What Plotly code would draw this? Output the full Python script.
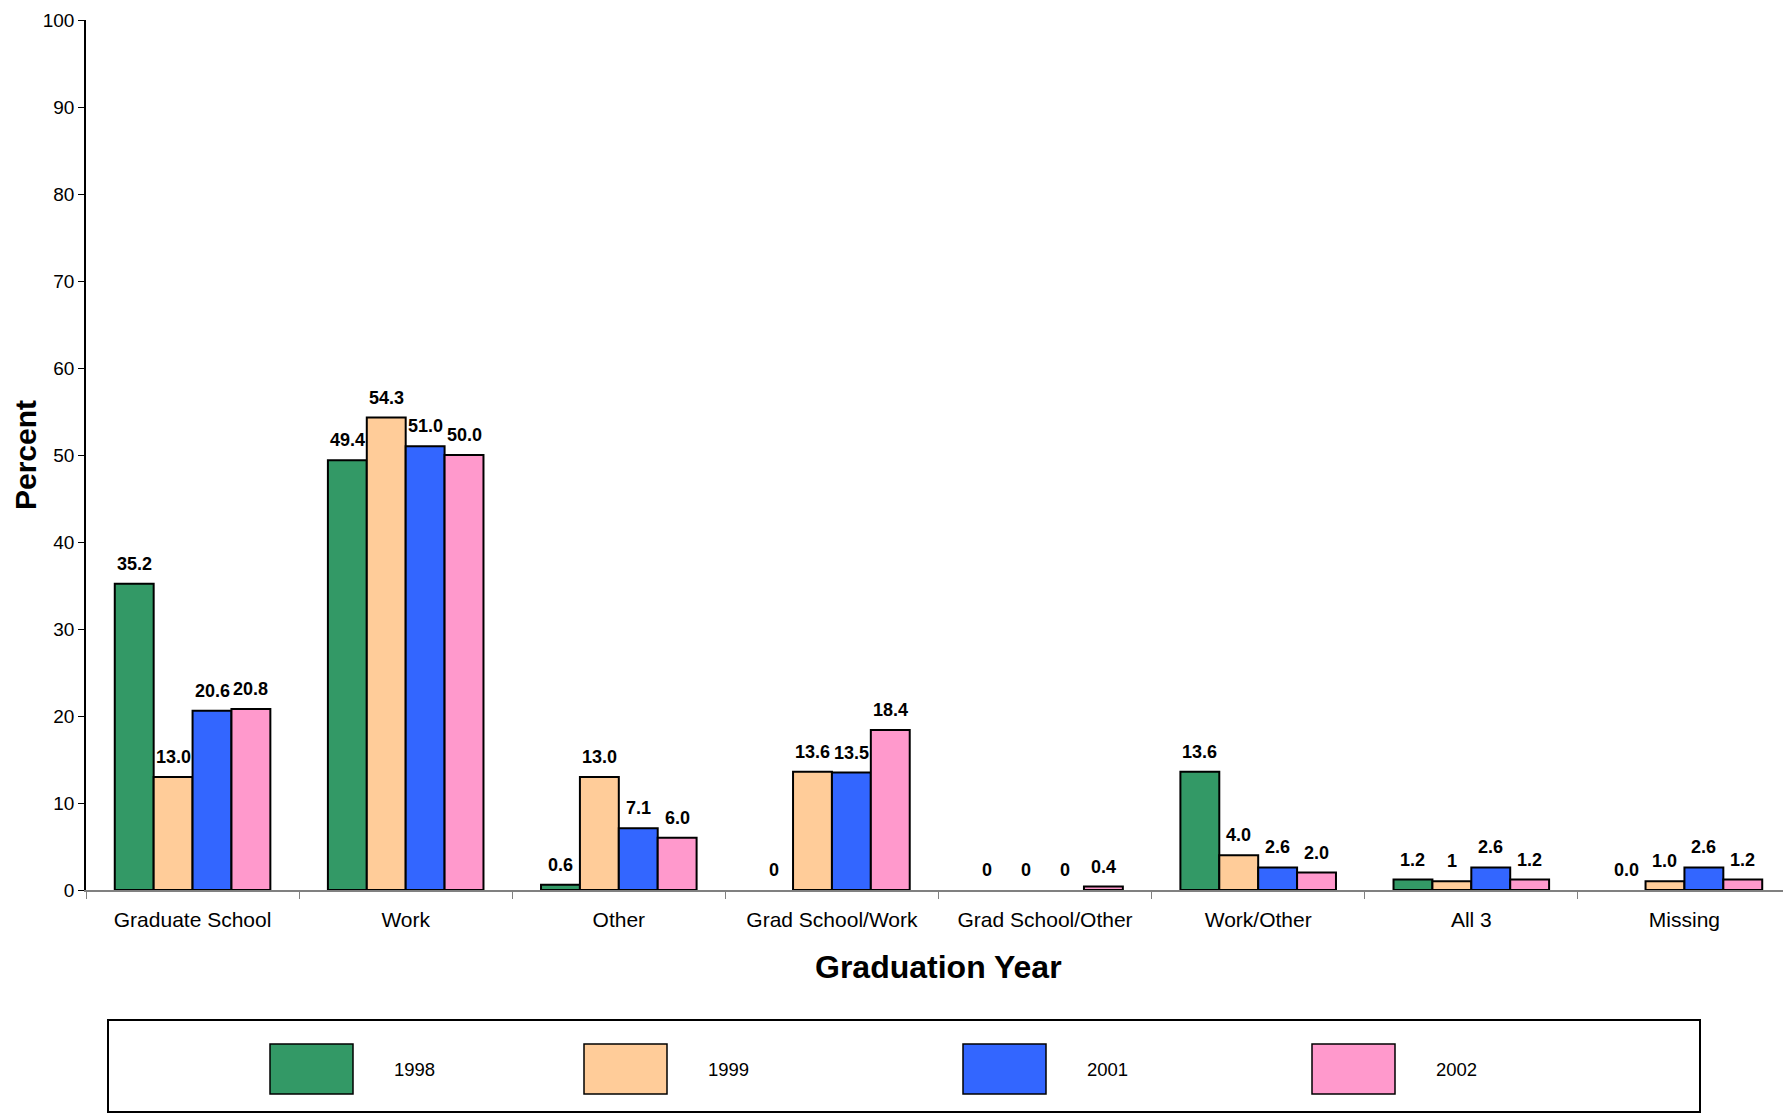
import plotly.graph_objects as go

# data
categories = ["Graduate School", "Work", "Other", "Grad School/Work",
              "Grad School/Other", "Work/Other", "All 3", "Missing"]
years = ["1998", "1999", "2001", "2002"]

v1998 = [35.2, 49.4, 0.6, 0, 0, 13.6, 1.2, 0.0]
v1999 = [13.0, 54.3, 13.0, 13.6, 0, 4.0, 1.0, 1.0]
v2001 = [20.6, 51.0, 7.1, 13.5, 0, 2.6, 2.6, 2.6]
v2002 = [20.8, 50.0, 6.0, 18.4, 0.4, 2.0, 1.2, 1.2]

t1998 = ["35.2", "49.4", "0.6", "0", "0", "13.6", "1.2", "0.0"]
t1999 = ["13.0", "54.3", "13.0", "13.6", "0", "4.0", "1", "1.0"]
t2001 = ["20.6", "51.0", "7.1", "13.5", "0", "2.6", "2.6", "2.6"]
t2002 = ["20.8", "50.0", "6.0", "18.4", "0.4", "2.0", "1.2", "1.2"]

yticks = list(range(0, 101, 10))

values = [v1998, v1999, v2001, v2002]
labels = [t1998, t1999, t2001, t2002]
colors = ["#339966", "#FFCC99", "#3366FF", "#FF99CC"]

FONT = "Arial, Liberation Sans, sans-serif"
# page body has an 8px margin, so the figure is 8px smaller than the window
OFF = 8
W, H = 1791 - OFF, 1115 - OFF
ML, MR, MT, MB = 86 - OFF, 0, 12, 225
PW, PH = W - ML - MR, H - MT - MB
BARGAP = 0.27
bar_px = PW / len(categories) * (1 - BARGAP) / len(years)

fig = go.Figure()
annots = []
for i, (yr, v, t, c) in enumerate(zip(years, values, labels, colors)):
    fig.add_trace(go.Bar(
        x=categories, y=v, name=yr,
        marker=dict(color=c, line=dict(color="black",
                                       width=[0 if val == 0 else 2 for val in v])),
    ))
    for cat, val, lab in zip(categories, v, t):
        annots.append(dict(x=cat, y=val, xref="x", yref="y", text=f"<b>{lab}</b>",
                           showarrow=False, xanchor="center", yanchor="bottom",
                           xshift=(i - 1.5) * bar_px, yshift=8,
                           font=dict(family=FONT, size=18, color="black")))

# hand-made legend (big swatches like the original); positions in window pixels
def px_x(p):
    return (p - OFF - ML) / PW

def px_y(p):
    return (H - MB - (p - OFF)) / PH

shapes = [dict(type="rect", xref="paper", yref="paper",
               x0=px_x(108), x1=px_x(1700), y0=px_y(1112), y1=px_y(1020),
               line=dict(color="black", width=2), fillcolor="white")]
sw_left = [270, 584, 963, 1312]
for yr, c, sx in zip(years, colors, sw_left):
    shapes.append(dict(type="rect", xref="paper", yref="paper",
                       x0=px_x(sx), x1=px_x(sx + 83), y0=px_y(1094), y1=px_y(1044),
                       line=dict(color="black", width=1.5), fillcolor=c))
    annots.append(dict(xref="paper", yref="paper", x=px_x(sx + 122), y=px_y(1069),
                       text=yr, showarrow=False, xanchor="left", yanchor="middle",
                       font=dict(family=FONT, size=18.5, color="black")))

annots.append(dict(xref="paper", yref="paper", x=0.5, y=0, yshift=-77,
                   text="<b>Graduation Year</b>", showarrow=False,
                   xanchor="center", yanchor="middle",
                   font=dict(family=FONT, size=32, color="black")))
annots.append(dict(xref="paper", yref="paper", x=0, y=0.5, xshift=-61,
                   text="<b>Percent</b>", showarrow=False, textangle=-90,
                   xanchor="center", yanchor="middle",
                   font=dict(family=FONT, size=30, color="black")))

fig.update_layout(
    width=W, height=H,
    margin=dict(l=ML, r=MR, t=MT, b=MB, autoexpand=False),
    paper_bgcolor="white", plot_bgcolor="white",
    barmode="group", bargap=BARGAP, bargroupgap=0,
    showlegend=False,
    shapes=shapes, annotations=annots,
    font=dict(family=FONT, color="black"),
    xaxis=dict(
        showline=True, linecolor="#808080", linewidth=2,
        ticks="outside", tickson="boundaries", ticklen=7, tickcolor="#808080",
        tickfont=dict(family=FONT, size=21, color="black"),
        ticklabelstandoff=10, ticklabeloverflow="allow", automargin=False,
        showgrid=False, zeroline=False,
    ),
    yaxis=dict(
        range=[0, 100], tickvals=yticks,
        showline=True, linecolor="black", linewidth=1.5,
        ticks="outside", ticklen=6, tickcolor="black",
        tickfont=dict(family=FONT, size=19, color="black"),
        ticklabeloverflow="allow", automargin=False,
        showgrid=False, zeroline=False,
    ),
)

fig.write_html("out.html")
